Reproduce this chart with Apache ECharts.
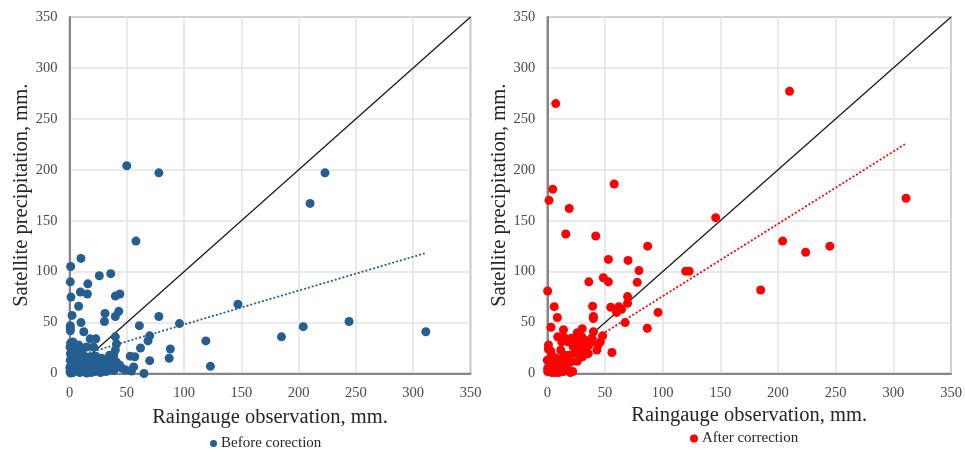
<!DOCTYPE html>
<html>
<head>
<meta charset="utf-8">
<script src="https://cdn.jsdelivr.net/npm/echarts@6/dist/echarts.min.js"></script>
<style>
html,body{margin:0;padding:0;background:#fff;}
#chart{width:965px;height:452px;}
</style>
</head>
<body>
<div id="chart"></div>
<script>
// ---- Data ----
const beforePoints = [
  [50,204],[78,197],[58,130],[210,167],[223,197],[147,68],[119,32],[123,7],[185,36],[204,46],[244,51],[311,41],
  [96,49],[88,24],[87,15],[10,113],[1,105],[0.7,90],[16,88],[26,96],[36,98],[9.5,80],[15.6,78],[1.3,75],[40,76],
  [44,78],[8,66],[43,61],[2.2,57],[31,59],[40,56],[10,50],[30.5,51],[61,47],[78,56],[0.7,47],[0.7,44],[0.7,42],
  [12.5,41],[40,36],[70,37],[68.5,32],[18,34],[23,34],[1,30],[41,29],[62,25],[40,23],[70,12.6],[57,16.5],[65,0],
  [54,2.5],[49,3.4],[56,6.5],[38.5,3],[5,23],[11,25],[15,26],[21,26],[8,28],[11,20],[38.5,18],[38.5,14],[53,17],
  [0.7,13],[28,15],[33,14],[28,10],[34,10],[41,11],[0.5,26],[1,20],[2,17],[3,8],[4,5],[6,3],[8,10],[10,6],[12,2],
  [14,8],[16,4],[18,12],[20,6],[22,2],[24,9],[26,4],[30,6],[32,2],[36,7],[0.5,2],[1,0.5],[2,11],[5,15],[7,18],
  [13,14],[17,16],[19,1],[23,17],[25,12],[0.3,6],[3,1],[9,1],[27,1],[44,8],[46,5],[35,18],[40,5],[15,0.5],[5,9],
  [3,31],[6,12],[1,19]
];
const afterPoints = [
  [7.3,265],[210,277],[311,172],[146,153],[204,130],[224,119],[245,125],[185,82],[4.7,181],[1.5,170],[58,186],
  [19,162],[16,137],[42,135],[87,125],[53,112],[70,111],[79.5,101],[120,100.5],[123,100.5],[48.6,94],[53,90],
  [36,90],[78,89.5],[0.3,81],[69.6,75.5],[69.6,69],[6,65.6],[39.3,66],[55,65],[62,65.6],[64.4,63],[60,60],[96,60],
  [8.7,55],[40,56],[40,54],[67.5,50],[86.7,44.4],[3.2,45.4],[14,43],[30.3,44],[26,40],[40,41],[26,38],[38.5,34.6],
  [38.5,31],[56,20.6],[44,28],[43,23],[35.5,19.5],[30.5,16.5],[9,36],[14.5,35.6],[21,34.6],[25,34],[30,36],
  [28.3,30.3],[12.5,31],[18,31],[0.9,24],[11.6,23],[22.5,26.3],[4,18],[8,15],[15,18],[19,18],[0,13],[11,10],
  [17,8],[21,11.6],[22,2],[0.3,5],[0.3,2],[3,4],[5,8],[7,1],[9,4],[12,6],[14,2],[16,12],[2,10],[4,1],[6,13],
  [10,1],[13,14],[18,4],[20,1],[1,28],[3,22],[24,20],[26,12],[28,22],[33,24],[34,26],[36,28],[31,27],[27,25],
  [32,33],[46,31],[48,37]
];
const oneToOne = [[0,0],[350,350]];
const trendBefore = [[0.5,15],[310,118]];
const trendAfter = [[0.3,5],[310,225]];
const axisTicks = [0,50,100,150,200,250,300,350];
const xName = 'Raingauge observation, mm.';
const yName = 'Satellite precipitation, mm.';
const legendBefore = 'Before corection';
const legendAfter = 'After correction';

const serif = '"Liberation Serif","Times New Roman",serif';
const blue = '#255E91';
const red = '#FF0000';

function xAx(gi, gap){
  return {
    gridIndex: gi, type:'value', min: axisTicks[0], max: axisTicks[axisTicks.length-1], interval: 50,
    name: xName, nameLocation:'middle', nameGap: gap,
    nameTextStyle:{fontFamily:serif, fontSize:20.5, color:'#262626'},
    axisLine:{show:true, onZero:false, lineStyle:{color:'#868686', width:2}},
    axisTick:{show:false},
    axisLabel:{fontFamily:serif, fontSize:14.5, color:'#4a4a4a', margin:12},
    splitLine:{show:true, lineStyle:{color:'#e3e3e3', width:1.5}}
  };
}
function yAx(gi){
  return {
    gridIndex: gi, type:'value', min: axisTicks[0], max: axisTicks[axisTicks.length-1], interval: 50,
    name: yName, nameLocation:'middle', nameGap: 37,
    nameTextStyle:{fontFamily:serif, fontSize:20.5, color:'#262626'},
    axisLine:{show:true, onZero:false, lineStyle:{color:'#868686', width:2}},
    axisTick:{show:false},
    axisLabel:{fontFamily:serif, fontSize:14.5, color:'#4a4a4a', margin:12},
    splitLine:{show:true, lineStyle:{color:'#e3e3e3', width:1.5}}
  };
}

const chart = echarts.init(document.getElementById('chart'), null, {renderer:'canvas'});
chart.setOption({
  animation:false,
  backgroundColor:'#fff',
  grid:[
    {left:69.5, top:17, width:401, height:356.5, show:true, borderColor:'#7a7a7a', borderWidth:1.5, backgroundColor:'transparent'},
    {left:547.3, top:17, width:403.7, height:356.5, show:true, borderColor:'#7a7a7a', borderWidth:1.5, backgroundColor:'transparent'}
  ],
  xAxis:[xAx(0, 34), xAx(1, 29)],
  yAxis:[yAx(0), yAx(1)],
  legend:[
    {data:[legendBefore], left:205, top:431, itemWidth:7, itemHeight:7, itemGap:4,
     textStyle:{fontFamily:serif, fontSize:15, color:'#262626', padding:[0,0,0,-1]}},
    {data:[legendAfter], left:685, top:426, itemWidth:8, itemHeight:8, itemGap:4,
     textStyle:{fontFamily:serif, fontSize:15, color:'#262626', padding:[0,0,0,-1]}}
  ],
  series:[
    {type:'line', xAxisIndex:0, yAxisIndex:0, data:oneToOne, symbol:'none', lineStyle:{color:'#1a1a1a', width:1.3}, silent:true, z:3},
    {type:'line', xAxisIndex:1, yAxisIndex:1, data:oneToOne, symbol:'none', lineStyle:{color:'#1a1a1a', width:1.3}, silent:true, z:3},
    {name:legendBefore, type:'scatter', xAxisIndex:0, yAxisIndex:0, data:beforePoints, symbol:'circle', symbolSize:9,
     itemStyle:{color:blue, opacity:1}, z:4},
    {name:legendAfter, type:'scatter', xAxisIndex:1, yAxisIndex:1, data:afterPoints, symbol:'circle', symbolSize:9,
     itemStyle:{color:red, opacity:1}, z:4},
    {type:'line', xAxisIndex:0, yAxisIndex:0, data:trendBefore, symbol:'none', lineStyle:{color:blue, width:1.8, type:[2,2]}, silent:true, z:5},
    {type:'line', xAxisIndex:1, yAxisIndex:1, data:trendAfter, symbol:'none', lineStyle:{color:red, width:1.8, type:[2,2]}, silent:true, z:5}
  ]
});
</script>
</body>
</html>
